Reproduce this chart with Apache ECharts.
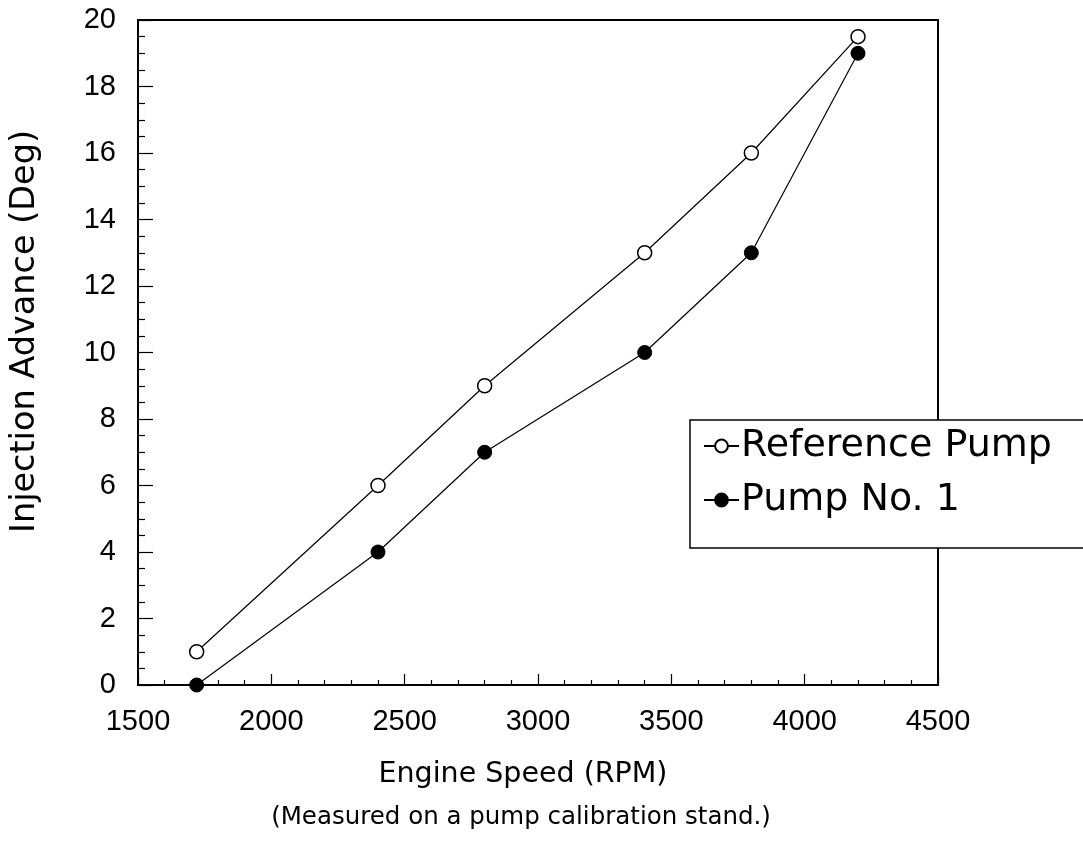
<!DOCTYPE html>
<html>
<head>
<meta charset="utf-8">
<title>Injection Advance vs Engine Speed</title>
<script src="https://cdn.jsdelivr.net/npm/echarts@6/dist/echarts.min.js"></script>
<style>
  html, body { margin: 0; padding: 0; background: #ffffff; }
  #chart { width: 1083px; height: 849px; }
</style>
</head>
<body>
<div id="chart"></div>
<script>
// Engine speed (RPM) at each measured point
const engineSpeed = [1720, 2400, 2800, 3400, 3800, 4200];
// Injection advance (deg) for each pump
const referencePump = [1, 6, 9, 13, 16, 19.5];
const pumpNo1 = [0, 4, 7, 10, 13, 19];

const seriesNames = ['Reference Pump', 'Pump No. 1'];
const xAxisTitle = 'Engine Speed (RPM)';
const yAxisTitle = 'Injection Advance (Deg)';
const noteText = '(Measured on a pump calibration stand.)';

const pairs = (xs, ys) => xs.map((x, i) => [x, ys[i]]);

const tickFont = { fontFamily: 'Liberation Sans', fontSize: 29, color: '#000', formatter: (v) => String(v) };
const titleFont = 'DejaVu Sans';

const chart = echarts.init(document.getElementById('chart'), null, { renderer: 'canvas' });

chart.setOption({
  animation: false,
  backgroundColor: '#ffffff',
  grid: {
    left: 134, right: 145, top: 20, bottom: 164,
    show: true, borderColor: '#000', borderWidth: 2, backgroundColor: 'transparent'
  },
  xAxis: {
    type: 'value',
    min: 1500, max: 4500, interval: 500,
    name: xAxisTitle,
    nameLocation: 'middle',
    nameGap: 75,
    nameTextStyle: { fontFamily: titleFont, fontSize: 28.5, color: '#000', padding: [0, 30, 0, 0] },
    axisLine: { show: true, lineStyle: { color: '#000', width: 2 } },
    axisTick: { show: true, inside: true, length: 11, lineStyle: { color: '#000', width: 1.2 } },
    minorTick: { show: true, splitNumber: 5, length: 5, lineStyle: { color: '#000', width: 1.2 } },
    axisLabel: Object.assign({ margin: 22 }, tickFont),
    splitLine: { show: false }
  },
  yAxis: {
    type: 'value',
    min: 0, max: 20, interval: 2,
    name: yAxisTitle,
    nameLocation: 'middle',
    nameGap: 96,
    nameRotate: 90,
    nameTextStyle: { fontFamily: titleFont, fontSize: 33.5, color: '#000', padding: [0, 0, 0, 42] },
    axisLine: { show: true, lineStyle: { color: '#000', width: 2 } },
    axisTick: { show: true, inside: true, length: 15, lineStyle: { color: '#000', width: 1.2 } },
    minorTick: { show: true, splitNumber: 4, length: 7, lineStyle: { color: '#000', width: 1.2 } },
    axisLabel: Object.assign({ margin: 22 }, tickFont),
    splitLine: { show: false }
  },
  legend: {
    left: 690, top: 420,
    orient: 'vertical',
    backgroundColor: '#ffffff',
    borderColor: '#000',
    borderWidth: 1.5,
    borderRadius: 0,
    padding: [3, 60, 25, 13],
    itemGap: 8,
    itemWidth: 35,
    itemHeight: 16,
    textStyle: { fontFamily: titleFont, fontSize: 38, color: '#000', lineHeight: 46, padding: [0, 0, 0, -3] },
    data: seriesNames
  },
  graphic: [{
    type: 'text',
    x: 521, y: 818,
    style: {
      text: noteText,
      fontFamily: titleFont, fontSize: 24.5, fill: '#000',
      textAlign: 'center', textVerticalAlign: 'middle'
    }
  }],
  series: [
    {
      name: seriesNames[0],
      type: 'line',
      data: pairs(engineSpeed, referencePump),
      symbol: 'circle',
      symbolSize: 14,
      showAllSymbol: true,
      lineStyle: { color: '#000', width: 1.2 },
      itemStyle: { color: '#ffffff', borderColor: '#000', borderWidth: 1.5 },
      clip: false,
      z: 3
    },
    {
      name: seriesNames[1],
      type: 'line',
      data: pairs(engineSpeed, pumpNo1),
      symbol: 'circle',
      symbolSize: 14,
      showAllSymbol: true,
      lineStyle: { color: '#000', width: 1.2 },
      itemStyle: { color: '#000', borderColor: '#000', borderWidth: 1 },
      clip: false,
      z: 3
    }
  ]
});
</script>
</body>
</html>
